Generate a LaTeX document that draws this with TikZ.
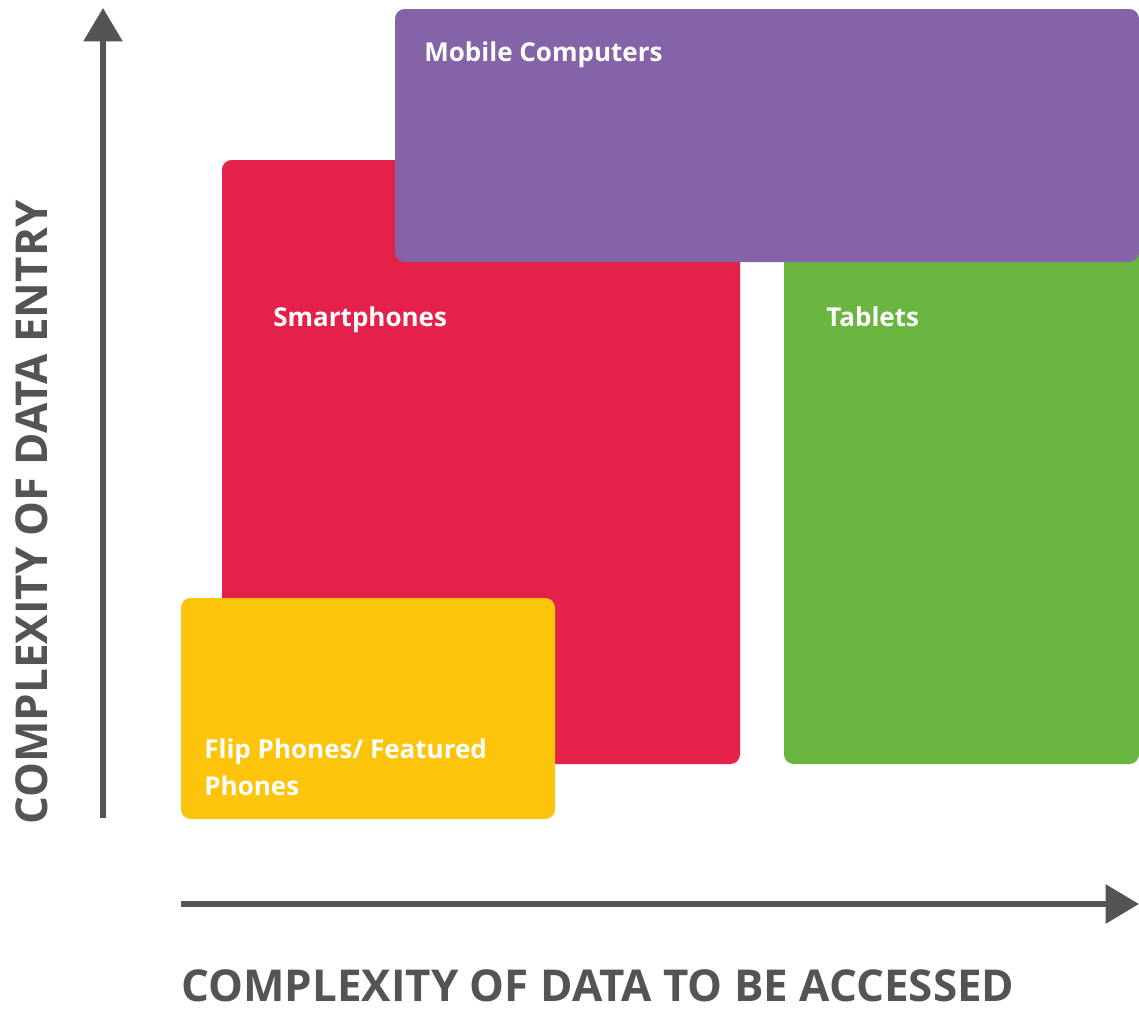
\documentclass[tikz,border=0pt]{standalone}
\usepackage{fontspec}
\setmainfont{Open Sans}
\usetikzlibrary{arrows.meta}
\definecolor{cred}{HTML}{E52049}
\definecolor{cpurple}{HTML}{8463A8}
\definecolor{cgreen}{HTML}{6AB540}
\definecolor{cyellow}{HTML}{FCC40A}
\definecolor{cgray}{HTML}{555354}
\tikzset{
  panel/.style={rounded corners=5.5pt},
  lbl/.style={anchor=base west, inner sep=0pt, text=white, font=\fontsize{14.8}{20.5}\selectfont\bfseries, align=left},
  axis/.style={draw=cgray, line width=3.4pt, -{Triangle[length=19pt,width=21.6pt]}},
  axlbl/.style={text=cgray, inner sep=0pt, text depth=0pt, font=\fontsize{25}{30}\selectfont\bfseries}
}
\begin{document}
\begin{tikzpicture}[x=0.02cm,y=-0.02cm]
\useasboundingbox (0,0) rectangle (1139,1008);
\fill[cred,panel] (222,160) rectangle (740,764);
\fill[cgreen,panel] (784,200) rectangle (1139,764);
\fill[cpurple,panel] (395,9) rectangle (1139,262);
\fill[cyellow,panel] (181,598) rectangle (555,819);
\node[lbl] (mob) at (424,61) {Mobile Computers};
\node[lbl] (sma) at (273,326) {Smartphones};
\node[lbl] (tab) at (826,326) {Tablets};
\node[lbl] (flip) at (204,795) {Flip Phones/ Featured\\Phones};
\coordinate (ys) at (103,818);
\coordinate (ye) at (103,8);
\coordinate (xs) at (181,904);
\coordinate (xe) at (1139,904);
\draw[axis] (ys) -- (ye);
\draw[axis] (xs) -- (xe);
\node[axlbl, anchor=base west] (xl) at (181,1001) {COMPLEXITY OF DATA TO BE ACCESSED};
\node[axlbl, anchor=base west, rotate=90] (yl) at (47,825) {COMPLEXITY OF DATA ENTRY};
\end{tikzpicture}
\end{document}
